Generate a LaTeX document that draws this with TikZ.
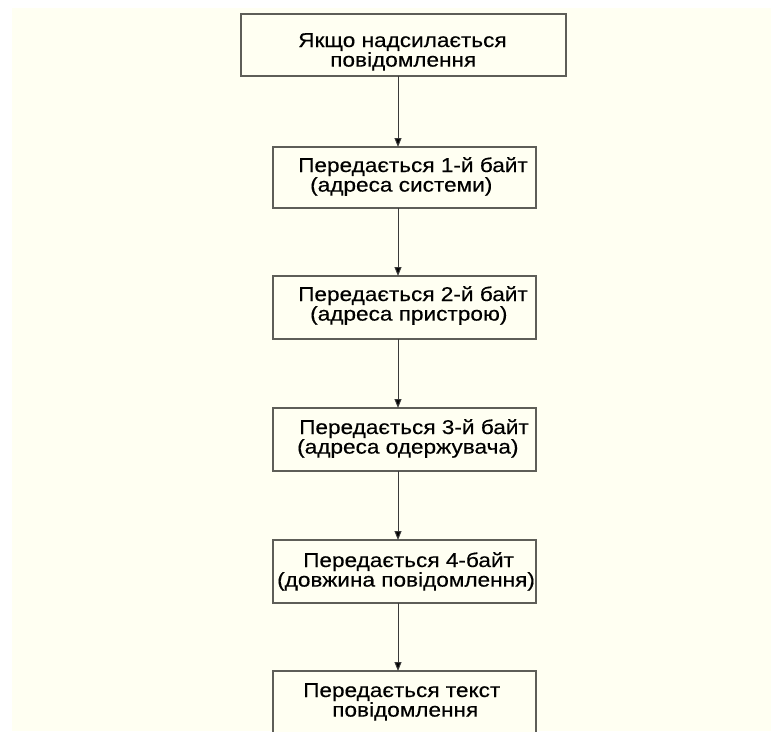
\documentclass[tikz,border=0pt]{standalone}
\usepackage{fontspec}
\setmainfont{Liberation Sans}[FakeStretch=1.13,FakeBold=0.3]
\usetikzlibrary{arrows.meta}
\definecolor{paper}{HTML}{FFFFF2}
\definecolor{frame}{HTML}{5E5E58}
\definecolor{wire}{HTML}{3A3A3A}
% two-line caption; the first line's baseline is the node's base
\newcommand{\twolines}[4]{%
  \begin{tabular}[t]{@{}l@{}}\hspace*{#1pt}#2\\\hspace*{#3pt}#4\end{tabular}}
\begin{document}
\begin{tikzpicture}[x=1pt,y=-1pt,
  stepbox/.style={draw=frame, line width=1.7pt, fill=paper, minimum width=263pt,
    minimum height=62pt, inner sep=0pt, outer sep=0pt, anchor=north west},
  txt/.style={anchor=base west, inner sep=0pt, font=\fontsize{20}{17}\selectfont},
  flow/.style={draw=wire, line width=1pt, -{Triangle[width=7pt,length=9pt,fill=black]}}]
  \useasboundingbox (0,0) rectangle (771,731);
  \fill[white] (0,0) rectangle (771,731);
  \fill[paper] (12,8) rectangle (771,731);
  \begin{scope}
    \clip (0,0) rectangle (771,731);
    % boxes
    \node[stepbox, minimum width=325pt, minimum height=62pt] (b1) at (241,14) {};
    \node[stepbox, minimum height=61pt] (b2) at (273,147) {};
    \node[stepbox, minimum height=63pt] (b3) at (273,276) {};
    \node[stepbox, minimum height=63pt] (b4) at (273,408) {};
    \node[stepbox, minimum height=63pt] (b5) at (273,540) {};
    \node[stepbox, minimum height=80pt] (b6) at (273,671) {};
    % box texts
    \node[txt] (t1) at (298,47) {\twolines{0}{Якщо надсилається}{32}{повідомлення}};
    \node[txt] (t2) at (298,172) {\twolines{0}{Передається 1-й байт}{12}{(адреса системи)}};
    \node[txt] (t3) at (298,301) {\twolines{0}{Передається 2-й байт}{12}{(адреса пристрою)}};
    \node[txt] (t4) at (297,434) {\twolines{2}{Передається 3-й байт}{0}{(адреса одержувача)}};
    \node[txt] (t5) at (277,567) {\twolines{26}{Передається 4-байт}{0}{(довжина повідомлення)}};
    \node[txt] (t6) at (303,697) {\twolines{0}{Передається текст}{29}{повідомлення}};
    % connectors
    \coordinate (ax) at (398,0);
    \draw[flow] (b1.south -| ax) -- (b2.north -| ax);
    \draw[flow] (b2.south -| ax) -- (b3.north -| ax);
    \draw[flow] (b3.south -| ax) -- (b4.north -| ax);
    \draw[flow] (b4.south -| ax) -- (b5.north -| ax);
    \draw[flow] (b5.south -| ax) -- (b6.north -| ax);
  \end{scope}
\end{tikzpicture}
\end{document}
